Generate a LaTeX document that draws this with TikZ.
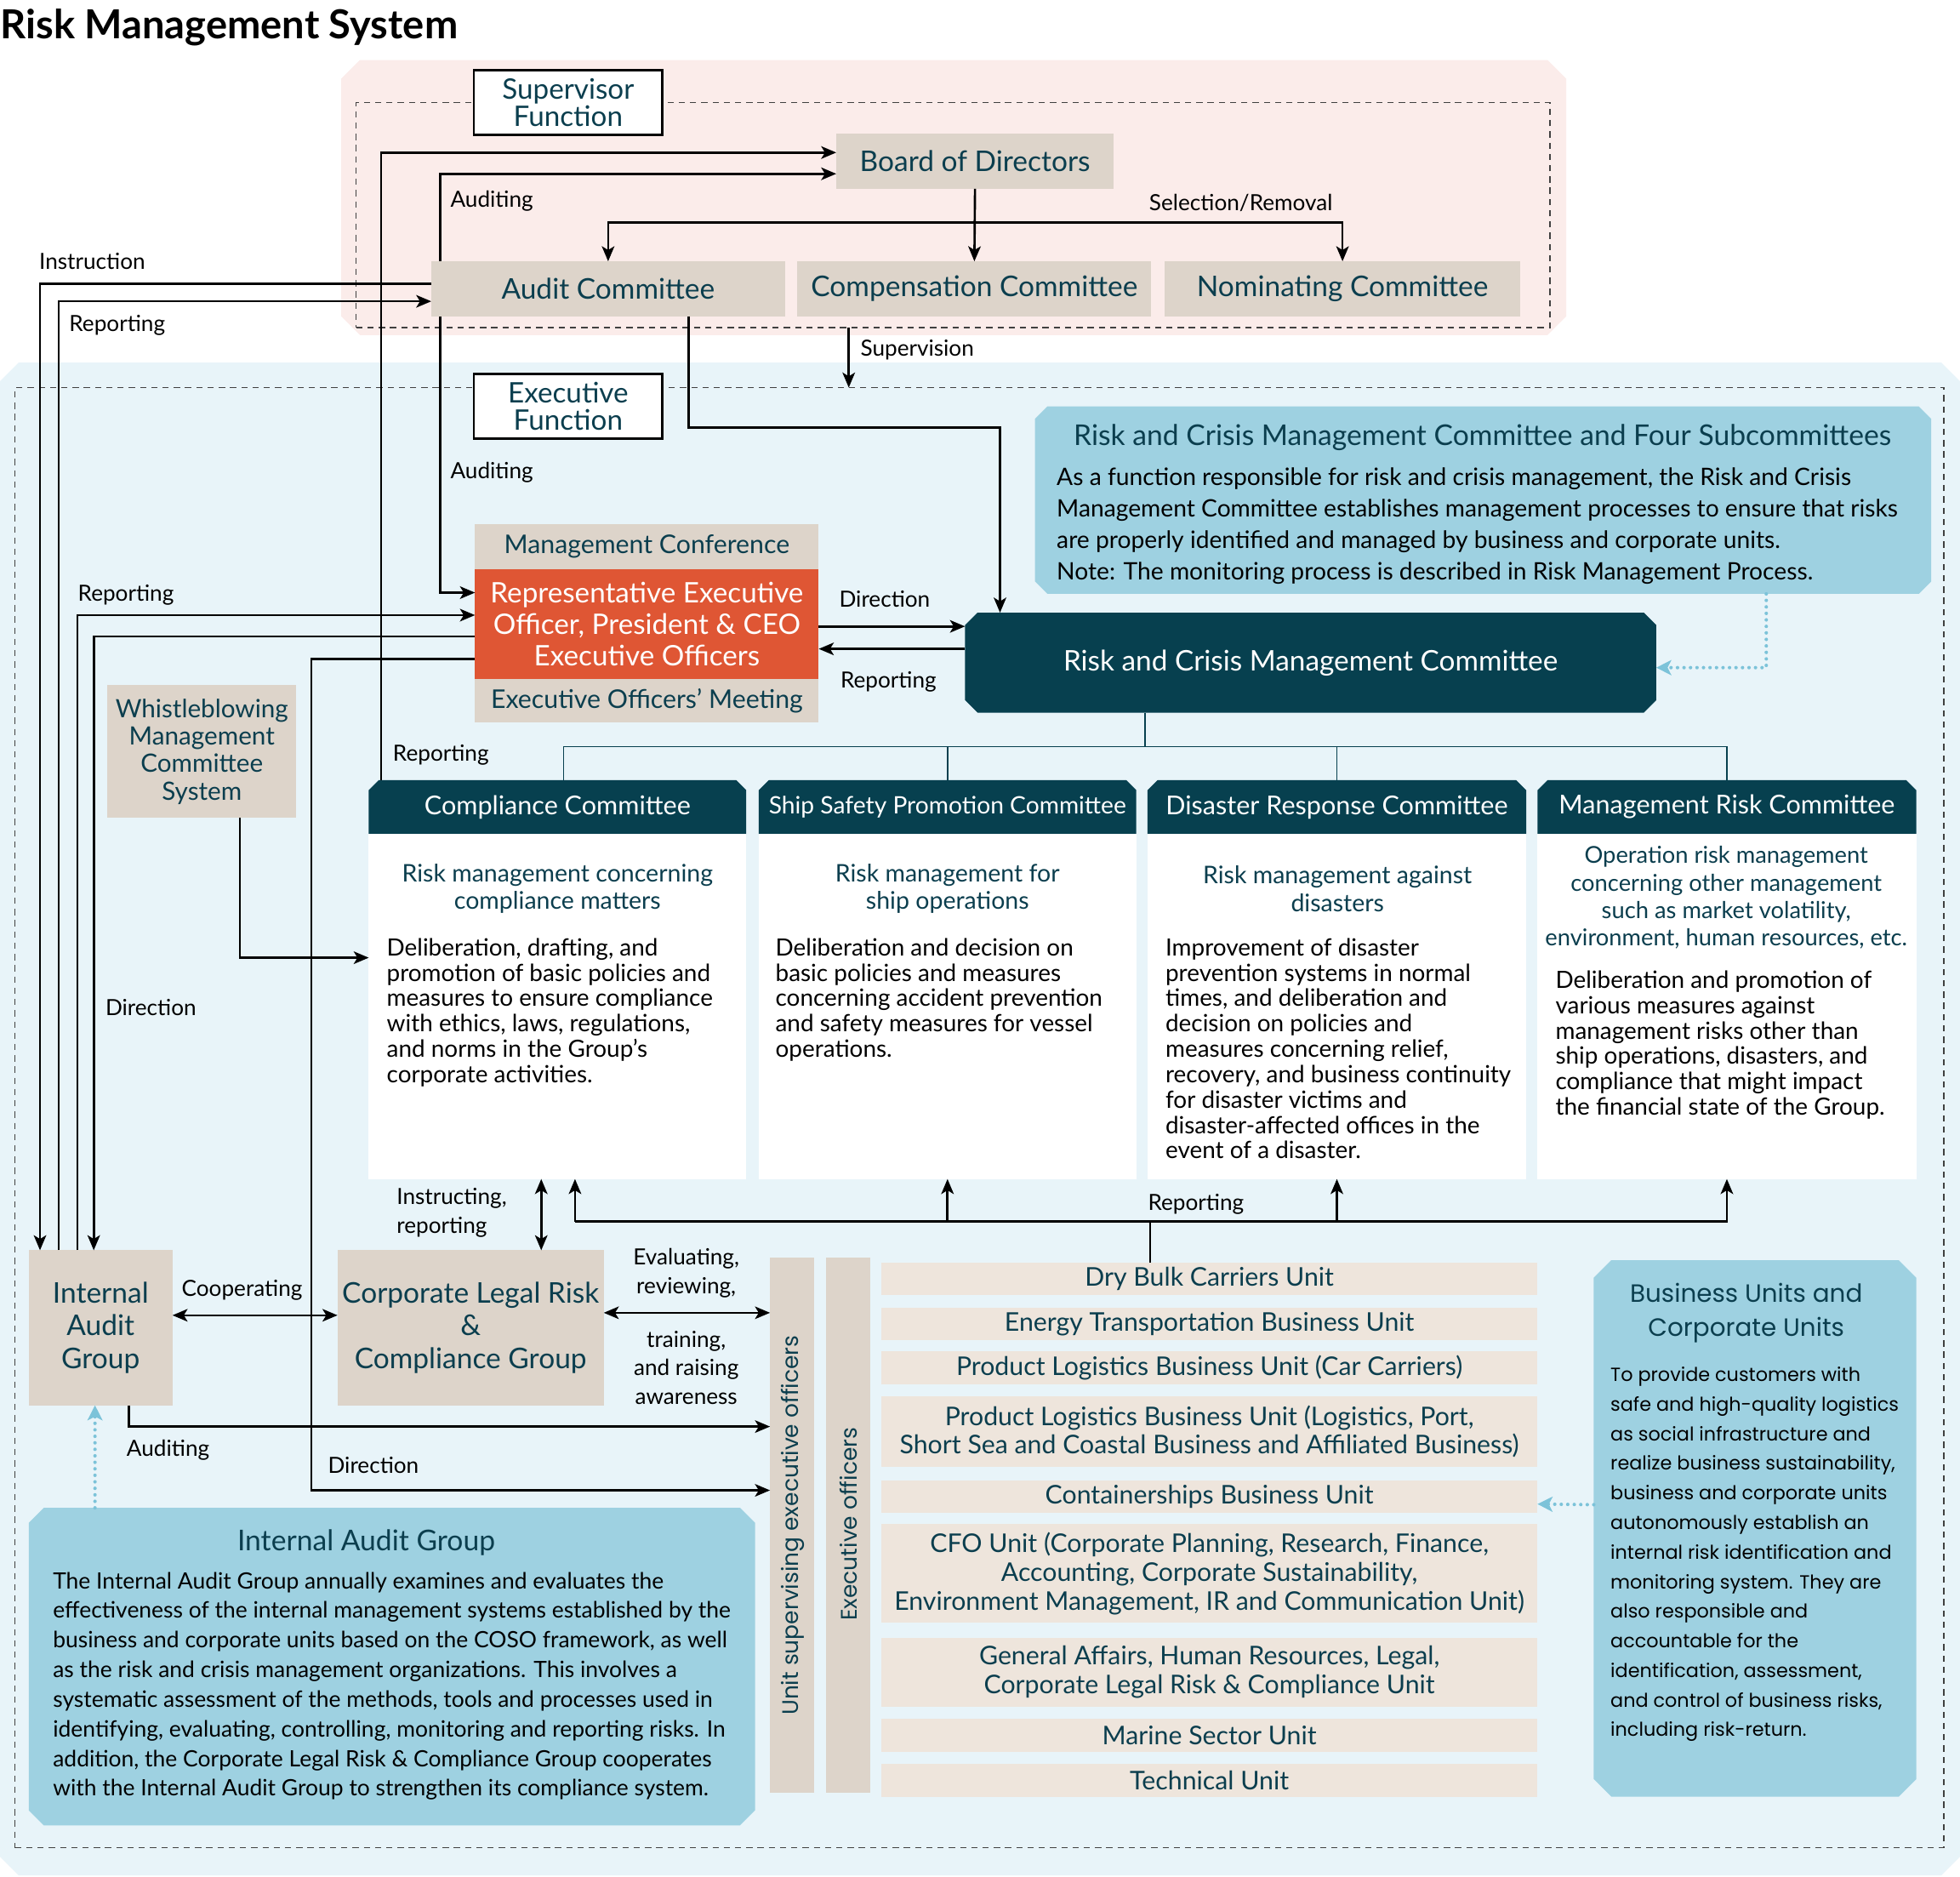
\documentclass[tikz,border=0pt]{standalone}
\usepackage{fontspec}
\setmainfont{Lato}
\newfontfamily\geo{Poppins}
\usetikzlibrary{arrows.meta,calc}
\definecolor{pinkbg}{HTML}{FBECEA}
\definecolor{bluebg}{HTML}{E8F4F9}
\definecolor{beige}{HTML}{DDD4CA}
\definecolor{unitbg}{HTML}{EEE5DC}
\definecolor{darkteal}{HTML}{07404F}
\definecolor{tealtxt}{HTML}{0B3E4E}
\definecolor{orng}{HTML}{DF5634}
\definecolor{infoblue}{HTML}{9ED1E1}
\definecolor{dotblue}{HTML}{7CC3D9}
\newcommand{\fTitle}{\fontsize{16}{18}\selectfont\bfseries}
\newcommand{\fBox}{\fontsize{11.4}{13.2}\selectfont}
\newcommand{\fFunc}{\fontsize{11.3}{11}\selectfont}
\newcommand{\fMid}{\fontsize{10.3}{12.5}\selectfont}
\newcommand{\fHead}{\fontsize{10.4}{12}\selectfont}
\newcommand{\fSub}{\fontsize{9.7}{11}\selectfont}
\newcommand{\fBody}{\fontsize{9.5}{10.15}\selectfont}
\newcommand{\fLbl}{\fontsize{8.9}{11.5}\selectfont}
\newcommand{\fUnit}{\fontsize{10.3}{11.5}\selectfont}
\newcommand{\fDesc}{\fontsize{9}{11.85}\selectfont}
\newcommand{\fInfo}{\fontsize{9.6}{12.5}\selectfont}
\newcommand{\chamf}[6]{\fill[#1] ({#2+#6},#3) -- ({#4-#6},#3) -- (#4,{#3+#6}) -- (#4,{#5-#6}) -- ({#4-#6},#5) -- ({#2+#6},#5) -- (#2,{#5-#6}) -- (#2,{#3+#6}) -- cycle;}
\newcommand{\chamtop}[6]{\fill[#1] ({#2+#6},#3) -- ({#4-#6},#3) -- (#4,{#3+#6}) -- (#4,#5) -- (#2,#5) -- (#2,{#3+#6}) -- cycle;}
\newcommand{\placebox}[7][]{\node[fitbox,#1,minimum width={(#5-#3)*0.5pt},minimum height={(#6-#4)*0.5pt}] (#2) at ({(#3+#5)/2},{(#4+#6)/2}) {#7};}
\begin{document}
\begin{tikzpicture}[x=0.5pt,y=-0.5pt,
  fitbox/.style={inner sep=0pt,outer sep=0pt},
  beigebox/.style={fill=beige,text=tealtxt,align=center,font=\fBox},
  unitbox/.style={fill=unitbg,text=tealtxt,align=center,font=\fUnit},
  whitebox/.style={fill=white,draw=black,line width=0.9pt,text=tealtxt,align=center,font=\fFunc},
  frame/.style={draw=black!75,dash pattern=on 2.5pt off 2pt,line width=0.45pt},
  lbl/.style={inner sep=0pt,anchor=west,font=\fLbl,align=left},
  conn/.style={line width=0.9pt,draw=black},
  arr/.style={conn,-{Stealth[length=6pt,width=5pt,inset=1.5pt]}},
  darr/.style={conn,{Stealth[length=6pt,width=5pt,inset=1.5pt]}-{Stealth[length=6pt,width=5pt,inset=1.5pt]}},
  tree/.style={draw=darkteal,line width=0.5pt},
  dotarr/.style={draw=dotblue,line width=1.4pt,line cap=round,dash pattern=on 0pt off 2.6pt,-{Stealth[length=6pt,width=6pt,inset=1.5pt,fill=dotblue]}},
  body/.style={inner sep=0pt,anchor=north west,align=left,font=\fBody,text=black},
  sub/.style={inner sep=0pt,align=center,font=\fSub,text=tealtxt},
  head/.style={align=center,font=\fHead,text=white}
]
\useasboundingbox (0,0) rectangle (1568,1501);
\fill[white] (0,0) rectangle (1568,1501);
% title
\node[inner sep=0pt,anchor=west,font=\fTitle] (title) at (0,22) {Risk Management System};
% regions
\chamf{pinkbg}{273}{48}{1253}{268}{15}
\chamf{bluebg}{0}{290}{1568}{1500}{15}
\placebox[frame]{supframe}{285}{82}{1240}{262}{}
\placebox[frame]{exframe}{12}{310}{1555}{1478}{}
% supervisor part
\placebox[whitebox]{supf}{379}{56}{530}{108}{Supervisor\\Function}
\placebox[beigebox]{bod}{669}{107}{891}{151}{Board of Directors}
\placebox[beigebox]{aud}{345}{209}{628}{253}{Audit Committee}
\placebox[beigebox]{comp}{638}{209}{921}{253}{Compensation Committee}
\placebox[beigebox]{nom}{932}{209}{1216}{253}{Nominating Committee}
% executive part
\placebox[whitebox]{exf}{379}{299}{530}{351}{Executive\\Function}
\chamf{infoblue}{828}{325}{1545}{475}{10}
\placebox{rcmcinfo}{828}{325}{1545}{475}{}
\node[inner sep=0pt,font=\fontsize{11.45}{13}\selectfont,text=tealtxt] (rcmcinfot) at (1186,350) {Risk and Crisis Management Committee and Four Subcommittees};
\node[body,font=\fInfo] (rcmcinfob) at (845,374) {As a function responsible for risk and crisis management, the Risk and Crisis\\Management Committee establishes management processes to ensure that risks\\are properly identified and managed by business and corporate units.\\Note: The monitoring process is described in Risk Management Process.};
\chamf{darkteal}{772}{490}{1325}{570}{10}
\placebox[text=white,font=\fontsize{11.35}{13}\selectfont]{rcmc}{772}{490}{1325}{570}{Risk and Crisis Management Committee}
\placebox[beigebox,font=\fMid]{mconf}{380}{419}{655}{455}{Management Conference}
\placebox[fill=orng,text=white,align=center,font=\fontsize{11.3}{12.5}\selectfont]{rep}{380}{455}{655}{543}{Representative Executive\\Officer, President \& CEO\\Executive Officers}
\placebox[beigebox,font=\fMid]{eom}{380}{543}{655}{578}{Executive Officers’ Meeting}
\placebox[beigebox,font=\fontsize{10.1}{11}\selectfont]{wb}{86}{548}{237}{654}{Whistleblowing\\Management\\Committee\\System}
% committees
\chamtop{darkteal}{295}{624}{597}{667}{8}
\chamtop{darkteal}{607}{624}{909}{667}{8}
\chamtop{darkteal}{918}{624}{1221}{667}{8}
\chamtop{darkteal}{1230}{624}{1533}{667}{8}
\placebox[head]{cc}{295}{624}{597}{667}{Compliance Committee}
\placebox[head,font=\fontsize{9.6}{12}\selectfont]{ss}{607}{624}{909}{667}{Ship Safety Promotion Committee}
\placebox[head]{dr}{918}{624}{1221}{667}{Disaster Response Committee}
\placebox[head]{mr}{1230}{624}{1533}{667}{Management Risk Committee}
\placebox[fill=white]{ccb}{295}{667}{597}{943}{}
\placebox[fill=white]{ssb}{607}{667}{909}{943}{}
\placebox[fill=white]{drb}{918}{667}{1221}{943}{}
\placebox[fill=white]{mrb}{1230}{667}{1533}{943}{}
\node[sub] (ccs) at (446,711) {Risk management concerning\\compliance matters};
\node[sub] (sss) at (758,711) {Risk management for\\ship operations};
\node[sub] (drs) at (1070,711) {Risk management against\\disasters};
\node[sub,font=\fontsize{9.3}{11}\selectfont] (mrs) at (1381,718) {Operation risk management\\concerning other management\\such as market volatility,\\environment, human resources, etc.};
\node[body] (cct) at (309,750) {Deliberation, drafting, and\\promotion of basic policies and\\measures to ensure compliance\\with ethics, laws, regulations,\\and norms in the Group’s\\corporate activities.};
\node[body] (sst) at (620,750) {Deliberation and decision on\\basic policies and measures\\concerning accident prevention\\and safety measures for vessel\\operations.};
\node[body] (drt) at (932,750) {Improvement of disaster\\prevention systems in normal\\times, and deliberation and\\decision on policies and\\measures concerning relief,\\recovery, and business continuity\\for disaster victims and\\disaster-affected offices in the\\event of a disaster.};
\node[body] (mrt) at (1244,776) {Deliberation and promotion of\\various measures against\\management risks other than\\ship operations, disasters, and\\compliance that might impact\\the financial state of the Group.};
% lower part
\placebox[beigebox]{iag}{23}{1000}{138}{1124}{Internal\\Audit\\Group}
\placebox[beigebox]{clr}{270}{1000}{483}{1124}{Corporate Legal Risk\\\&\\Compliance Group}
\placebox[fill=beige]{usx}{616}{1006}{651}{1434}{}
\placebox[fill=beige]{exo}{661}{1006}{696}{1434}{}
\node[rotate=90,inner sep=0pt,text=tealtxt,font=\geo\fontsize{9}{10}\selectfont] (usxt) at (634,1220) {Unit supervising executive officers};
\node[rotate=90,inner sep=0pt,text=tealtxt,font=\geo\fontsize{9}{10}\selectfont] (exot) at (679,1219) {Executive officers};
\placebox[unitbox]{u1}{705}{1010}{1230}{1036}{Dry Bulk Carriers Unit}
\placebox[unitbox]{u2}{705}{1046}{1230}{1072}{Energy Transportation Business Unit}
\placebox[unitbox]{u3}{705}{1081}{1230}{1107}{Product Logistics Business Unit (Car Carriers)}
\placebox[unitbox]{u4}{705}{1117}{1230}{1173}{Product Logistics Business Unit (Logistics, Port,\\Short Sea and Coastal Business and Affiliated Business)}
\placebox[unitbox]{u5}{705}{1184}{1230}{1210}{Containerships Business Unit}
\placebox[unitbox]{u6}{705}{1219}{1230}{1298}{CFO Unit (Corporate Planning, Research, Finance,\\Accounting, Corporate Sustainability,\\Environment Management, IR and Communication Unit)}
\placebox[unitbox]{u7}{705}{1310}{1230}{1365}{General Affairs, Human Resources, Legal,\\Corporate Legal Risk \& Compliance Unit}
\placebox[unitbox]{u8}{705}{1375}{1230}{1401}{Marine Sector Unit}
\placebox[unitbox]{u9}{705}{1411}{1230}{1437}{Technical Unit}
\chamf{infoblue}{23}{1206}{604}{1460}{12}
\placebox{iagd}{23}{1206}{604}{1460}{}
\node[inner sep=0pt,text=tealtxt,font=\fontsize{11.45}{12}\selectfont] (iagdt) at (293,1234) {Internal Audit Group};
\node[body,font=\fDesc] (iagdb) at (42,1257) {The Internal Audit Group annually examines and evaluates the\\effectiveness of the internal management systems established by the\\business and corporate units based on the COSO framework, as well\\as the risk and crisis management organizations. This involves a\\systematic assessment of the methods, tools and processes used in\\identifying, evaluating, controlling, monitoring and reporting risks. In\\addition, the Corporate Legal Risk \& Compliance Group cooperates\\with the Internal Audit Group to strengthen its compliance system.};
\chamf{infoblue}{1275}{1008}{1533}{1437}{14}
\placebox{bud}{1275}{1008}{1533}{1437}{}
\node[inner sep=0pt,align=center,text=tealtxt,font=\geo\fontsize{10}{13.5}\selectfont] (budt) at (1397,1050) {Business Units and\\Corporate Units};
\node[body,font=\geo\fontsize{7.6}{11.83}\selectfont] (budb) at (1288,1093) {To provide customers with\\safe and high-quality logistics\\as social infrastructure and\\realize business sustainability,\\business and corporate units\\autonomously establish an\\internal risk identification and\\monitoring system. They are\\also responsible and\\accountable for the\\identification, assessment,\\and control of business risks,\\including risk-return.};
% ---------- connectors ----------
\draw[arr] (bod.south) -- (comp.north);
\draw[arr] ($(bod.south)+(0,27)$) -| (aud.north);
\draw[arr] ($(bod.south)+(0,27)$) -| (nom.north);
\draw[arr] ($(aud.north west)+(7,0)$) |- ($(bod.west)+(0,10)$);
\draw[arr] ($(cc.north west)+(10,0)$) |- ($(bod.west)+(0,-7)$);
\draw[arr] ($(aud.west)+(0,-4)$) -| ($(iag.north west)+(9,0)$);
\draw[arr] ($(iag.north west)+(24,0)$) |- ($(aud.west)+(0,10)$);
\draw[arr] ($(supframe.south west)+(394,0)$) -- ($(exframe.north west)+(667,0)$);
\draw[arr] ($(aud.south west)+(206,0)$) |- ($(rcmc.north west)+(28,-148)$) -- ($(rcmc.north west)+(28,0)$);
\draw[arr] ($(aud.south west)+(7,0)$) |- ($(rep.west)+(0,-25)$);
\draw[arr] ($(iag.north west)+(39,0)$) |- ($(rep.west)+(0,-7)$);
\draw[arr] ($(rep.west)+(0,10)$) -| ($(iag.north west)+(52,0)$);
\draw[arr] ($(rep.west)+(0,28)$) -| ($(usx.south west)+(-367,-242)$) -- ($(usx.south west)+(0,-242)$);
\draw[arr] ($(rep.east)+(0,2)$) -- ($(rcmc.west)+(0,-29)$);
\draw[arr] ($(rcmc.west)+(0,-11)$) -- ($(rep.east)+(0,20)$);
\draw[dotarr] ($(rcmcinfo.south west)+(585,0)$) |- ($(rcmc.east)+(0,4)$);
\draw[tree] ($(rcmc.south west)+(144,0)$) -- ++(0,27);
\draw[tree] ($(cc.north)+(5,0)$) -- ($(cc.north)+(5,-27)$) -| (mr.north);
\draw[tree] (ss.north) -- ++(0,-27);
\draw[tree] (dr.north) -- ++(0,-27);
\draw[arr] ($(wb.south west)+(106,0)$) |- ($(ccb.west)+(0,-39)$);
\draw[conn] ($(u1.north west)+(215,0)$) -- ++(0,-33);
\draw[arr] ($(ccb.south west)+(165,34)$) -- ($(ccb.south west)+(165,0)$);
\draw[arr] ($(ccb.south west)+(165,34)$) -| (mrb.south);
\draw[arr] ($(ssb.south)+(0,34)$) -- (ssb.south);
\draw[arr] ($(drb.south)+(0,34)$) -- (drb.south);
\draw[darr] ($(clr.north west)+(163,0)$) -- ($(ccb.south west)+(138,0)$);
\draw[darr] ($(iag.east)+(0,-10)$) -- ($(clr.west)+(0,-10)$);
\draw[darr] ($(clr.east)+(0,-12)$) -- ($(usx.west |- clr.east)+(0,-12)$);
\draw[arr] ($(iag.south west)+(80,0)$) |- ($(usx.north west)+(0,135)$);
\draw[dotarr] ($(iagd.north west)+(53,0)$) -- ($(iag.south west)+(53,0)$);
\draw[dotarr] ($(bud.west)+(0,-19)$) -- ($(u5.east)+(0,6)$);
% ---------- labels ----------
\node[lbl] (l1) at (360,161) {Auditing};
\node[lbl] (l2) at (919,162) {Selection/Removal};
\node[lbl] (l3) at (31,209) {Instruction};
\node[lbl] (l4) at (55,260) {Reporting};
\node[lbl] (l5) at (688,280) {Supervision};
\node[lbl] (l6) at (360,378) {Auditing};
\node[lbl] (l7) at (62,476) {Reporting};
\node[lbl] (l8) at (671,479) {Direction};
\node[lbl] (l9) at (672,545) {Reporting};
\node[lbl] (l10) at (314,604) {Reporting};
\node[lbl] (l11) at (84,806) {Direction};
\node[lbl] (l12) at (317,970) {Instructing,\\reporting};
\node[lbl] (l13) at (918,963) {Reporting};
\node[lbl] (l14) at (145,1032) {Cooperating};
\node[lbl,anchor=center,align=center] (l15) at (549,1018) {Evaluating,\\reviewing,};
\node[lbl,anchor=center,align=center] (l16) at (549,1094) {training,\\and raising\\awareness};
\node[lbl] (l17) at (101,1160) {Auditing};
\node[lbl] (l18) at (262,1172) {Direction};
\end{tikzpicture}
\end{document}
